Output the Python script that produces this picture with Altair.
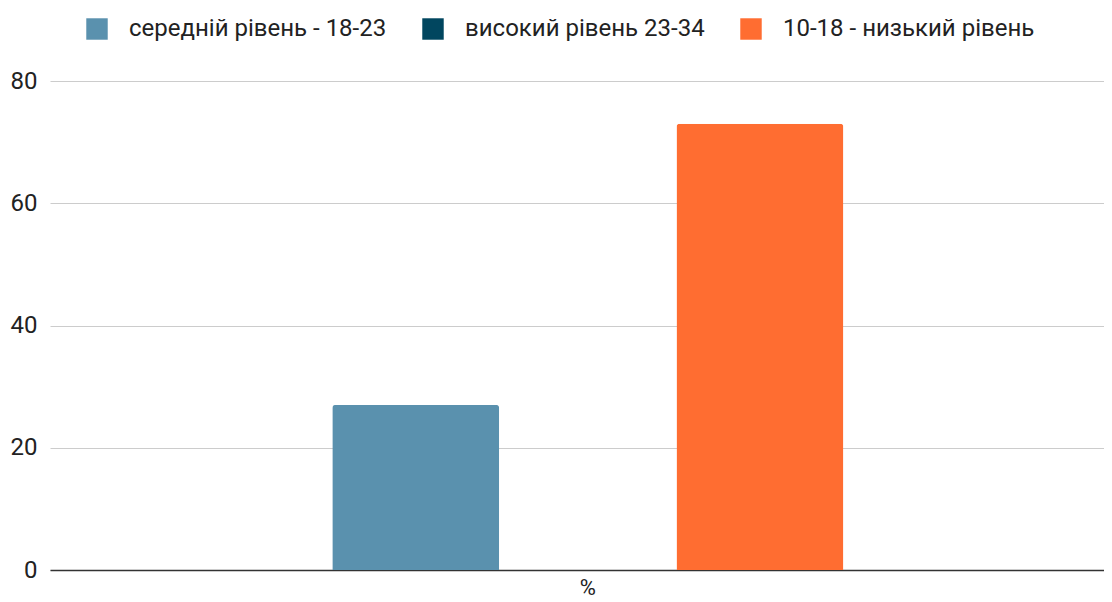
import altair as alt
import pandas as pd

categories = ["%", "%", "%"]
series = ["середній рівень - 18-23", "високий рівень 23-34", "10-18 - низький рівень"]
values = [27, 0, 73]
colors = ["#5A91AE", "#01465F", "#FF6D31"]
y_ticks = [0, 20, 40, 60, 80]

df = pd.DataFrame({"cat": categories, "series": series, "value": values})

FONT = "Roboto"

bars = alt.Chart(df).mark_bar(cornerRadiusTopLeft=3, cornerRadiusTopRight=3).encode(
    x=alt.X("cat:N", title=None,
            scale=alt.Scale(paddingInner=0, paddingOuter=0.531, align=0.52),
            axis=alt.Axis(labelAngle=0, ticks=False, domain=True, domainColor="#333333",
                          domainWidth=1.5, labelFont=FONT, labelFontSize=22,
                          labelColor="#222222", labelPadding=7, grid=False)),
    xOffset=alt.XOffset("series:N", sort=series,
                        scale=alt.Scale(paddingInner=0.03, paddingOuter=0)),
    y=alt.Y("value:Q", title=None,
            scale=alt.Scale(domain=[0, 80]),
            axis=alt.Axis(values=y_ticks, ticks=False, domain=False, gridColor="#CCCCCC",
                          labelFont=FONT, labelFontSize=24, labelColor="#222222",
                          labelPadding=13)),
    color=alt.Color("series:N", sort=series,
                    scale=alt.Scale(domain=series, range=colors),
                    legend=alt.Legend(title=None, orient="none", direction="horizontal",
                                      legendX=35, legendY=-64, symbolType="square",
                                      symbolSize=460, symbolStrokeWidth=0,
                                      labelFont=FONT, labelFontSize=24, labelColor="#222222",
                                      labelLimit=600, labelOffset=20, columnPadding=34,
                                      padding=0)),
)

chart = bars.properties(
    width=1054, height=489,
    autosize=alt.AutoSizeParams(type="none"),
    padding={"left": 42, "top": 73, "right": 0, "bottom": 32},
).configure_view(stroke=None)

chart.save("out.html", embed_options={"renderer": "svg", "actions": False})
